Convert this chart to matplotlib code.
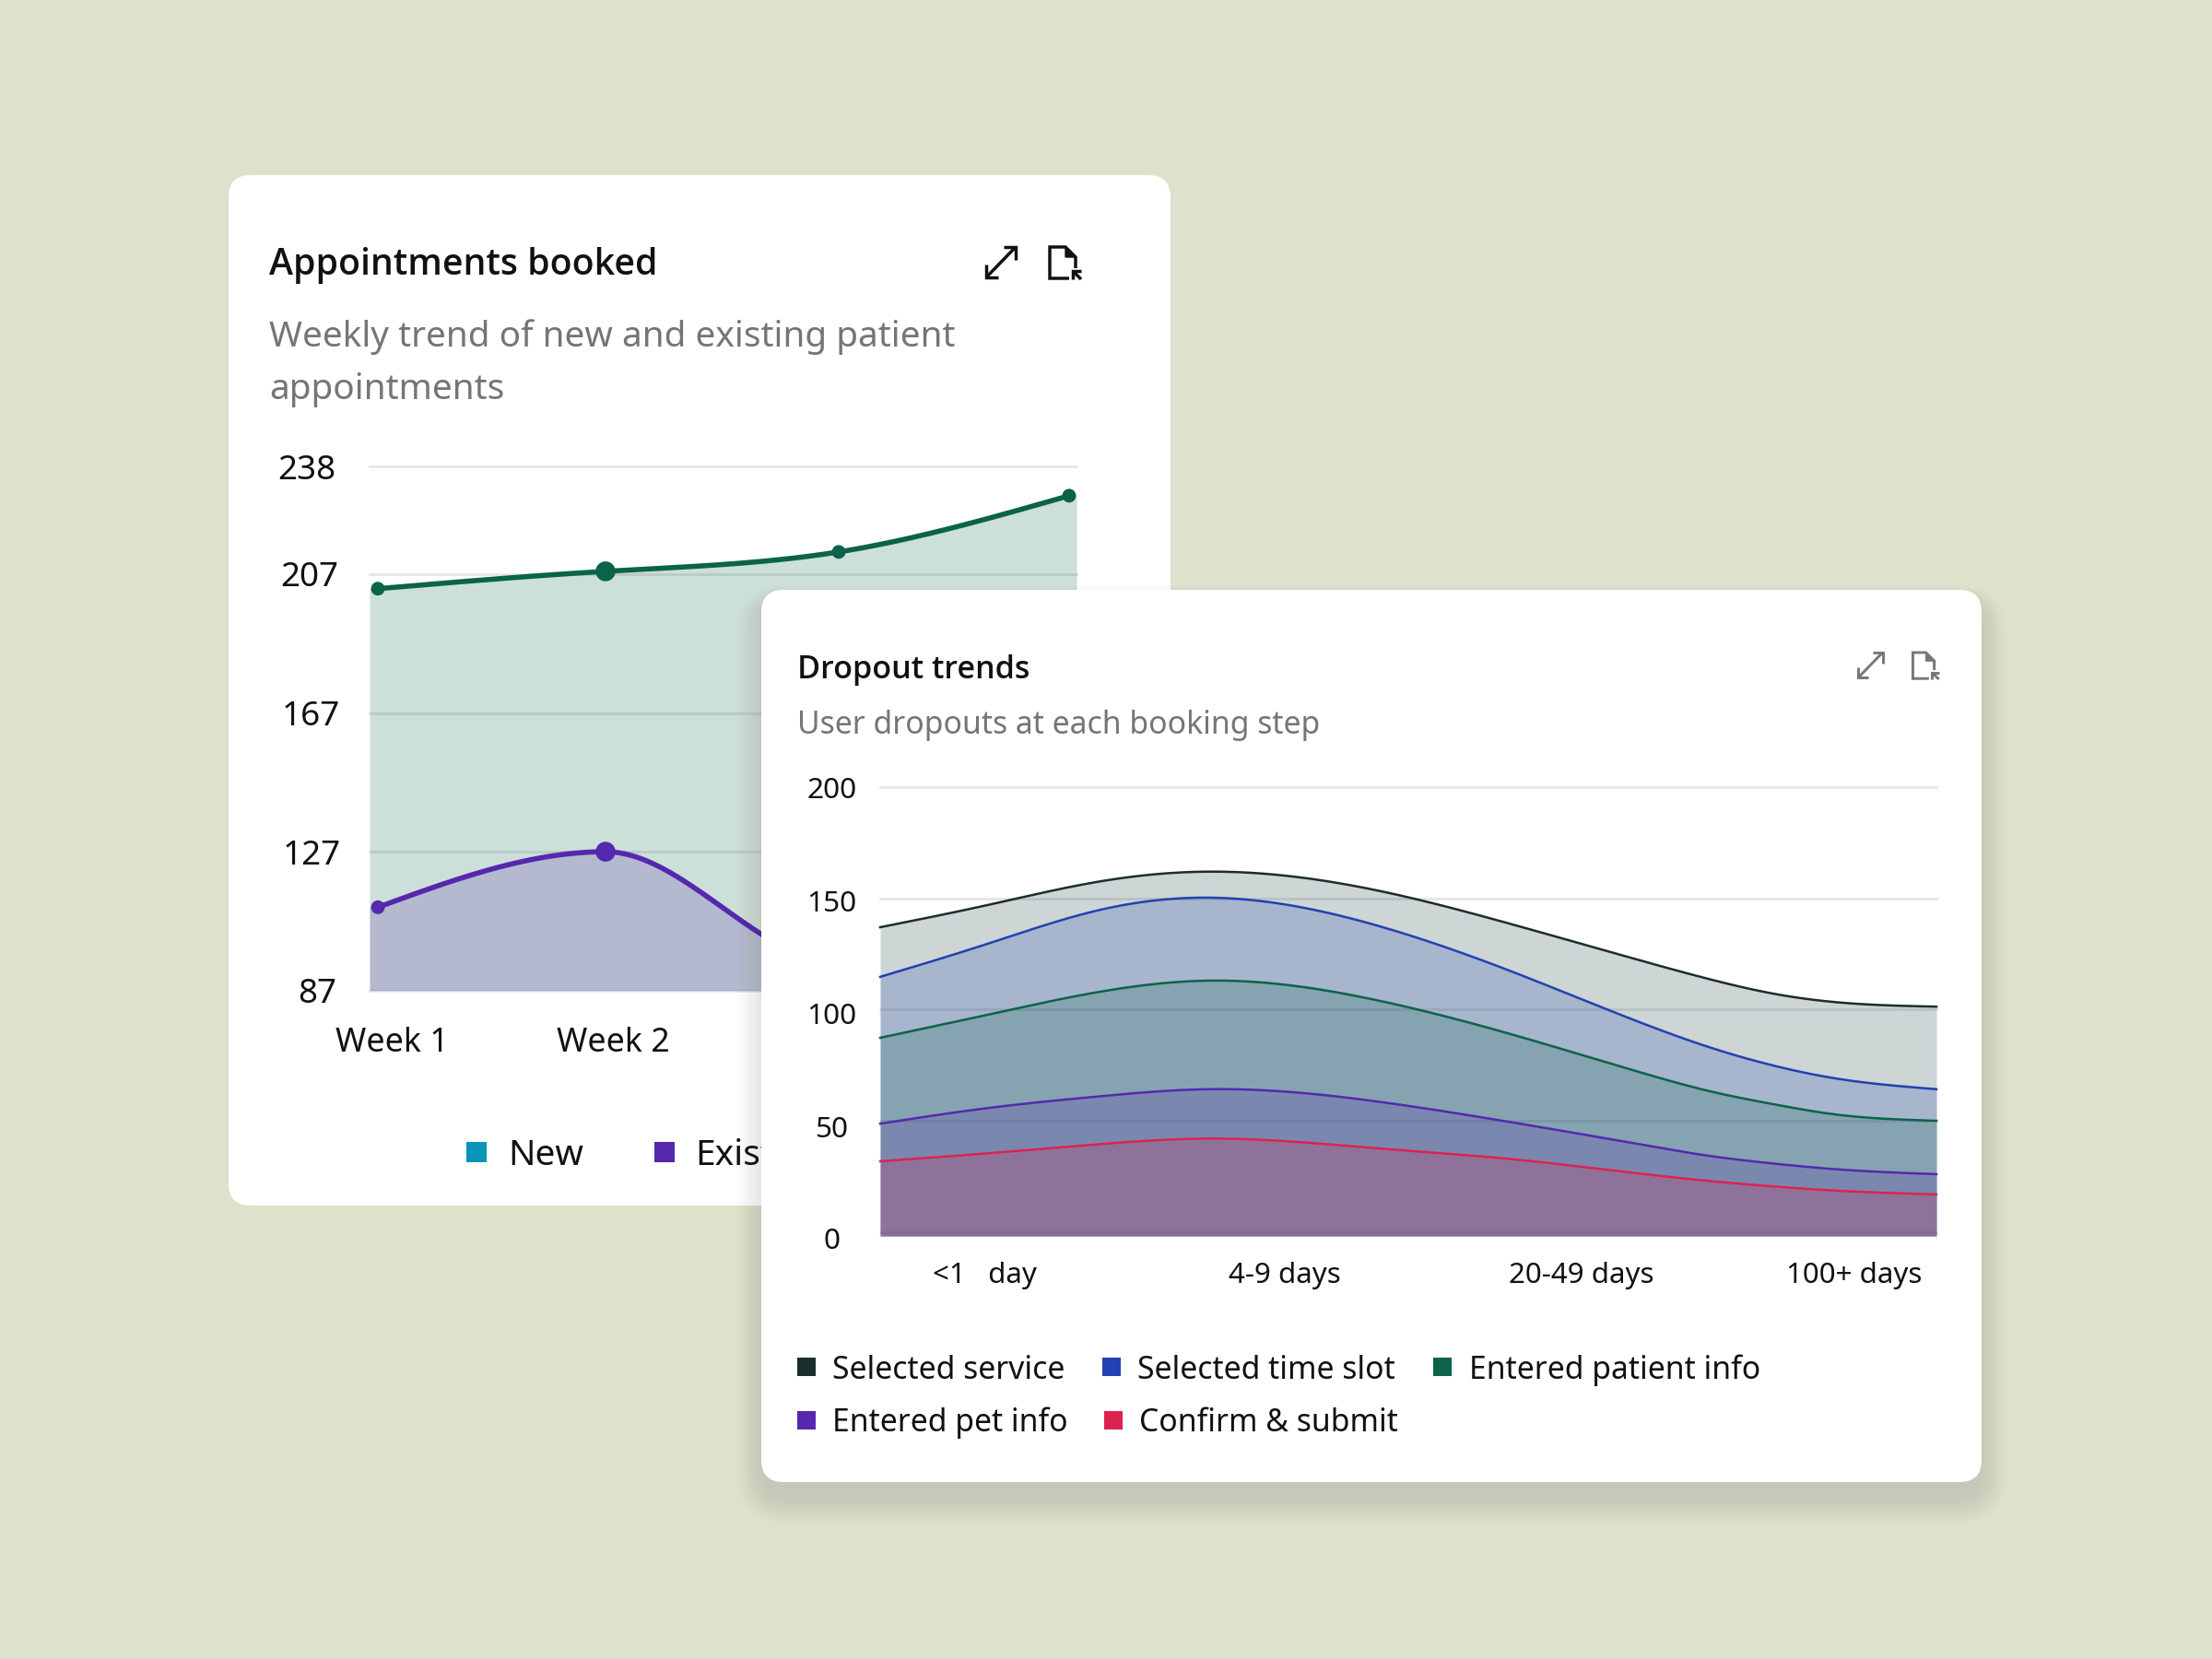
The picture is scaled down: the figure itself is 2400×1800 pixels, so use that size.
import numpy as np
import matplotlib
matplotlib.use("Agg")
import matplotlib.pyplot as plt
from matplotlib.patches import FancyBboxPatch, Polygon, Rectangle
from matplotlib.transforms import Affine2D

plt.rcParams["font.family"] = ["Noto Sans", "DejaVu Sans"]

# Appointments booked
weeks = ["Week 1", "Week 2", "Week 3", "Week 4"]
week_pos = [0, 0.988, 2, 3]
new_patients = [202.8, 207.8, 213.4, 229.6]
existing_patients = [111, 127, 95, 100]
appt_ticks = [87, 127, 167, 207, 238]

# Dropout trends
dropout_pos = [0.0, 0.10, 0.208, 0.311, 0.476, 0.593, 0.718, 0.788, 0.845, 0.905, 1.0]
selected_service = [137, 146.8, 157.6, 162, 153, 139, 122.3, 113.3, 107.2, 103.3, 101.3]
selected_slot = [114.7, 129.3, 144.8, 150.3, 137, 118, 94.5, 82.6, 74.9, 69, 64.2]
entered_patient = [87.3, 97.5, 108, 113, 103.6, 89.5, 72, 63, 57.5, 52.8, 50]
entered_pet = [48.7, 55.6, 61, 64.2, 58.3, 49.7, 39.5, 34, 30.8, 28.2, 26]
confirm_submit = [31.8, 35.3, 39.5, 42, 37.4, 33, 26.3, 22.8, 20.5, 18.6, 16.9]
dropout_ticks = [0, 50, 100, 150, 200]
day_labels = ["<1   day", "4-9 days", "20-49 days", "100+ days"]
day_pos = [0.0986, 0.383, 0.664, 0.922]

BG = "#DCE2CB"
INK = "#111111"
MUTED = "#757575"
GRID = "#E6E6E6"
GREEN = "#0B6349"
PURPLE = "#5528AE"
TEAL = "#0A94B8"
SLATE = "#1B2E2B"
SLATE_FILL = "#174040"
BLUE = "#2142B0"
RED = "#DC2350"
W, H = 2400, 1800
HEAD = ["Open Sans", "DejaVu Sans"]


def spline(x, y, n=600):
    """Natural cubic spline through the given points."""
    x, y = np.asarray(x, float), np.asarray(y, float)
    h = np.diff(x)
    m = len(x)
    A = np.zeros((m, m))
    b = np.zeros(m)
    A[0, 0] = A[-1, -1] = 1
    for i in range(1, m - 1):
        A[i, i - 1:i + 2] = h[i - 1], 2 * (h[i - 1] + h[i]), h[i]
        b[i] = 6 * ((y[i + 1] - y[i]) / h[i] - (y[i] - y[i - 1]) / h[i - 1])
    k = np.linalg.solve(A, b)
    xs = np.linspace(x[0], x[-1], n)
    j = np.clip(np.searchsorted(x, xs) - 1, 0, m - 2)
    t1, t0 = x[j + 1] - xs, xs - x[j]
    ys = (k[j] * t1**3 + k[j + 1] * t0**3) / (6 * h[j]) \
        + (y[j] / h[j] - k[j] * h[j] / 6) * t1 + (y[j + 1] / h[j] - k[j + 1] * h[j] / 6) * t0
    return xs, ys


def monotone(x, y, n=400):
    """Monotone cubic curve: flat at local extremes, no overshoot between points."""
    x, y = np.asarray(x, float), np.asarray(y, float)
    h = np.diff(x)
    d = np.diff(y) / h
    m = np.zeros(len(x))
    for i in range(1, len(x) - 1):
        if d[i - 1] * d[i] > 0:
            m[i] = 2 * d[i - 1] * d[i] / (d[i - 1] + d[i])
    m[0] = 1.5 * d[0] - 0.5 * m[1]
    m[-1] = 1.5 * d[-1] - 0.5 * m[-2]
    xs = np.linspace(x[0], x[-1], n)
    j = np.clip(np.searchsorted(x, xs) - 1, 0, len(x) - 2)
    t = (xs - x[j]) / h[j]
    ys = (2*t**3 - 3*t**2 + 1) * y[j] + (t**3 - 2*t**2 + t) * h[j] * m[j] \
        + (-2*t**3 + 3*t**2) * y[j + 1] + (t**3 - t**2) * h[j] * m[j + 1]
    return xs, ys


def pixel_axes(fig, z):
    ax = fig.add_axes([0, 0, 1, 1], zorder=z)
    ax.set_xlim(0, W)
    ax.set_ylim(H, 0)
    ax.axis("off")
    return ax


def chart_axes(fig, l, r, t, b, z):
    ax = fig.add_axes([l / W, 1 - b / H, (r - l) / W, (b - t) / H], zorder=z)
    ax.patch.set_alpha(0)
    for s in ax.spines.values():
        s.set_visible(False)
    return ax


def card(ax, l, t, r, b):
    ax.add_patch(FancyBboxPatch((l, t), r - l, b - t, boxstyle="round,pad=0,rounding_size=24",
                                fc="white", ec="none"))


def icons(ax, x0, y0, s, color, lw, doc_dx=0):
    """Expand and export glyphs; s scales the glyph, (x0, y0) is its top-left corner."""
    def line(pts, dx=0):
        p = np.array(pts, float) * s + (x0 + dx, y0)
        ax.plot(p[:, 0], p[:, 1], color=color, lw=lw, solid_capstyle="butt", solid_joinstyle="miter")
    line([(0, 33), (32, 0)])
    line([(0, 19), (0, 33), (13, 33)])
    line([(19, 0), (32, 0), (32, 14)])
    line([(89, 34), (68, 34), (68, 0), (85, 0), (96, 11), (96, 23)], doc_dx)
    ax.add_patch(Polygon(np.array([(85, 0), (96, 11), (85, 11)], float) * s + (x0 + doc_dx, y0), fc=color, ec=color))
    line([(102, 35), (93, 26)], doc_dx)
    line([(93, 35), (93, 26), (102, 26)], doc_dx)


def legend_row(ax, entries, y, size, fs, dy):
    for sx, tx, col, label in entries:
        ax.add_patch(Rectangle((sx, y - size / 2), size, size, fc=col, ec="none"))
        ax.text(tx, y + dy, label, fontsize=fs, color=INK, va="center", ha="left")


fig = plt.figure(figsize=(W / 100, H / 100), dpi=100, facecolor=BG)

# Back card: frame, headings and legend
back = pixel_axes(fig, 1)
card(back, 248, 190, 1270, 1308)
back.text(292, 288, "Appointments booked", fontsize=28.3, fontweight="semibold", family=HEAD, color=INK, va="center")
back.text(292, 366, "Weekly trend of new and existing patient", fontsize=27.9, color=MUTED, va="center")
back.text(292, 422.5, "appointments", fontsize=27.9, color=MUTED, va="center")
icons(back, 1070, 268, 1.0, INK, 2.5, doc_dx=1)
legend_row(back, [(506, 551, TEAL, "New"), (710, 754, PURPLE, "Existing")], 1250, 22, 28, 4)

# Back card: stacked trend areas
ax1 = chart_axes(fig, 401, 1168, 506.2, 1074.7, 1.5)
ax1.set_xlim(-0.036, 3.032)
ax1.set_ylim(87, 238)
for series, col, curve in ((new_patients, GREEN, spline), (existing_patients, PURPLE, monotone)):
    xs, ys = curve(week_pos, series)
    fx = np.r_[-0.036, xs, 3.032]
    fy = np.r_[ys[0], ys, ys[-1]]
    ax1.fill_between(fx, 87, fy, color=col, alpha=0.205, lw=0, zorder=2)
    ax1.plot(xs, ys, color=col, lw=4, zorder=3, clip_on=False)
    ax1.scatter(week_pos, series, s=[115, 240, 115, 115], color=col, lw=0, zorder=4, clip_on=False)
ax1.set_yticks(appt_ticks)
ax1.set_yticklabels(appt_ticks)
ax1.set_xticks([0.06, 1.02, 2.02, 3.0])
ax1.set_xticklabels(weeks)
ax1.tick_params(axis="y", length=0, pad=26, labelsize=26.5, labelcolor=INK)
ax1.tick_params(axis="x", length=0, pad=28, labelsize=25.8, labelcolor=INK)
ax1.grid(axis="y", color=GRID, lw=2, zorder=1)
ax1.set_axisbelow(True)
for gl in ax1.get_ygridlines():
    gl.set_clip_on(False)
for lab, dx in zip(ax1.get_yticklabels(), (0, 4.5, 4.5, 2, -1)):
    lab.set_transform(lab.get_transform() + Affine2D().translate(dx, 0))

# Front card: soft shadow, frame, headings and legend
front = pixel_axes(fig, 2)
for i in range(14, 0, -1):
    grow = i * 2.2
    front.add_patch(FancyBboxPatch((826 - grow + 4, 640 + 14 - grow * 0.6), 1324 + 2 * grow - 8, 968 + 1.6 * grow,
                                   boxstyle=f"round,pad=0,rounding_size={24 + grow}",
                                   fc="#4A5040", ec="none", alpha=0.0065))
card(front, 826, 640, 2150, 1608)
front.text(865, 727.5, "Dropout trends", fontsize=24.6, fontweight="semibold", family=HEAD, color=INK, va="center")
front.text(865, 787, "User dropouts at each booking step", fontsize=24.3, color=MUTED, va="center")
icons(front, 2016, 708, 0.83, "#777777", 2.1, doc_dx=3)
legend_row(front, [(865, 903, SLATE, "Selected service"), (1196, 1234, BLUE, "Selected time slot"),
                   (1555, 1594, GREEN, "Entered patient info")], 1482.5, 20, 24.3, 4)
legend_row(front, [(865, 903, PURPLE, "Entered pet info"), (1198, 1236.5, RED, "Confirm & submit")], 1540.5, 20, 24.3, 3.5)

# Front card: layered dropout areas
ax2 = chart_axes(fig, 955, 2101, 854, 1336.7, 3)
ax2.set_xlim(0, 1)
ax2.set_ylim(0, 200)
for series, col, fill in ((selected_service, SLATE, SLATE_FILL), (selected_slot, BLUE, BLUE),
                          (entered_patient, GREEN, GREEN), (entered_pet, PURPLE, PURPLE),
                          (confirm_submit, RED, RED)):
    xs, ys = spline(dropout_pos, series)
    ax2.fill_between(xs, -1.8, ys, color=fill, alpha=0.215, lw=0, zorder=2, clip_on=False)
    ax2.plot(xs, ys, color=col, lw=1.8, zorder=3, clip_on=False)
ax2.set_yticks(dropout_ticks)
ax2.set_yticklabels(dropout_ticks, ha="center")
ax2.set_xticks(day_pos)
ax2.set_xticklabels(day_labels)
ax2.tick_params(axis="y", length=0, pad=38, labelsize=22.8, labelcolor=INK)
ax2.tick_params(axis="x", length=0, pad=23, labelsize=22.5, labelcolor=INK)
ax2.grid(axis="y", color=GRID, lw=2, zorder=1)
ax2.set_axisbelow(True)
for gl in ax2.get_ygridlines():
    gl.set_clip_on(False)
for lab, off in zip(ax2.get_yticklabels(), (7, 6, 4, 3, 1)):
    lab.set_transform(lab.get_transform() + Affine2D().translate(0, -off))

fig.savefig("out.png", dpi=100, facecolor=BG)
